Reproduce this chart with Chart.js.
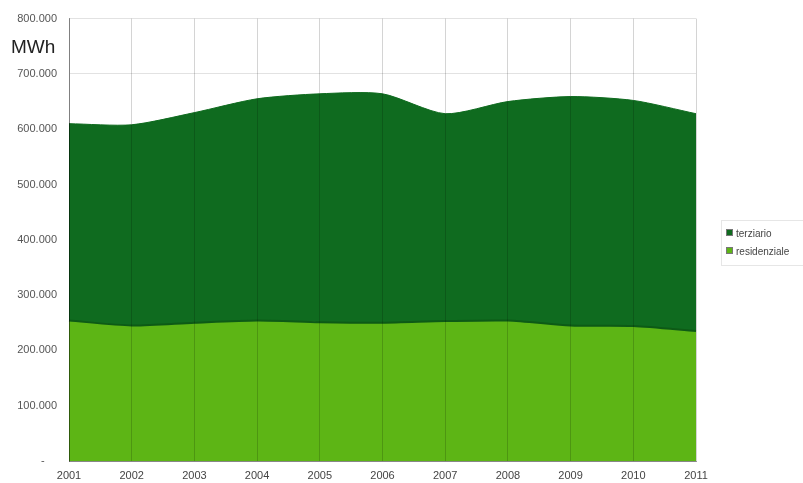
<!DOCTYPE html>
<html><head><meta charset="utf-8">
<script src="https://cdn.jsdelivr.net/npm/chart.js@4"></script>
<style>
html,body{margin:0;padding:0;background:#fff;}
#wrap{position:relative;width:803px;height:483px;}
#unit{position:absolute;left:11px;top:36px;font:19px "Liberation Sans",Arial,sans-serif;color:#222;}
#legend{position:absolute;left:721px;top:220px;width:90px;border:1px solid #e6e6e6;padding:4px 0 4px 4px;font:10px "Liberation Sans",Arial,sans-serif;color:#444;}
#legend div{height:18px;line-height:18px;white-space:nowrap;}
#legend span{display:inline-block;width:5px;height:5px;margin-right:3px;vertical-align:1px;border:1px solid #777;}
</style></head>
<body><div id="wrap"><canvas id="c" width="803" height="483"></canvas><div id="unit">MWh</div><div id="legend"></div></div>
<script>
const years = ['2001','2002','2003','2004','2005','2006','2007','2008','2009','2010','2011'];
const residenziale = [254000,245000,250000,254000,251000,250000,253000,254000,245000,244000,235000];
const terziario = [356000,363000,380000,401000,413000,414000,375000,396000,414000,408000,393000];
const seriesNames = ['terziario','residenziale'];
const seriesColors = ['#0f6b1f','#5db515'];
const yTicks = [0,100000,200000,300000,400000,500000,600000,700000,800000];

function fmt(v){
  if(v===0) return '-    ';
  return v.toString().replace(/\B(?=(\d{3})+(?!\d))/g,'.');
}

new Chart(document.getElementById('c'),{
  type:'line',
  data:{labels:years,datasets:[
    {label:seriesNames[1],data:residenziale,backgroundColor:seriesColors[1],borderColor:'#0d5a16',borderWidth:2,fill:'origin',pointRadius:0,tension:0.25},
    {label:seriesNames[0],data:terziario,backgroundColor:seriesColors[0],borderColor:seriesColors[0],borderWidth:1,fill:'-1',pointRadius:0,tension:0.25}
  ]},
  options:{
    responsive:false,animation:false,
    layout:{padding:{left:0,right:107,top:18,bottom:0}},
    plugins:{legend:{display:false},tooltip:{enabled:false}},
    scales:{
      x:{offset:false,
        grid:{z:1,color:'rgba(0,0,0,0.17)',drawTicks:false},
        border:{z:1,color:'rgba(0,0,0,0.4)'},
        ticks:{color:'#444',font:{family:'Liberation Sans',size:11},padding:8,maxRotation:0},
        afterFit:s=>{s.height=22;}
      },
      y:{stacked:true,min:0,max:800000,
        afterBuildTicks:s=>{s.ticks=yTicks.map(v=>({value:v}));},
        grid:{color:'#e2e2e2',drawTicks:false},
        border:{z:1,color:'rgba(0,0,0,0.4)'},
        ticks:{color:'#555',font:{family:'Liberation Sans',size:11},padding:12,callback:v=>fmt(v)},
        afterFit:s=>{s.width=69;}
      }
    }
  }
});
const lg=document.getElementById('legend');
seriesNames.forEach((n,i)=>{const d=document.createElement('div');d.innerHTML='<span style="background:'+seriesColors[i]+'"></span>'+n;lg.appendChild(d);});
</script></body></html>
